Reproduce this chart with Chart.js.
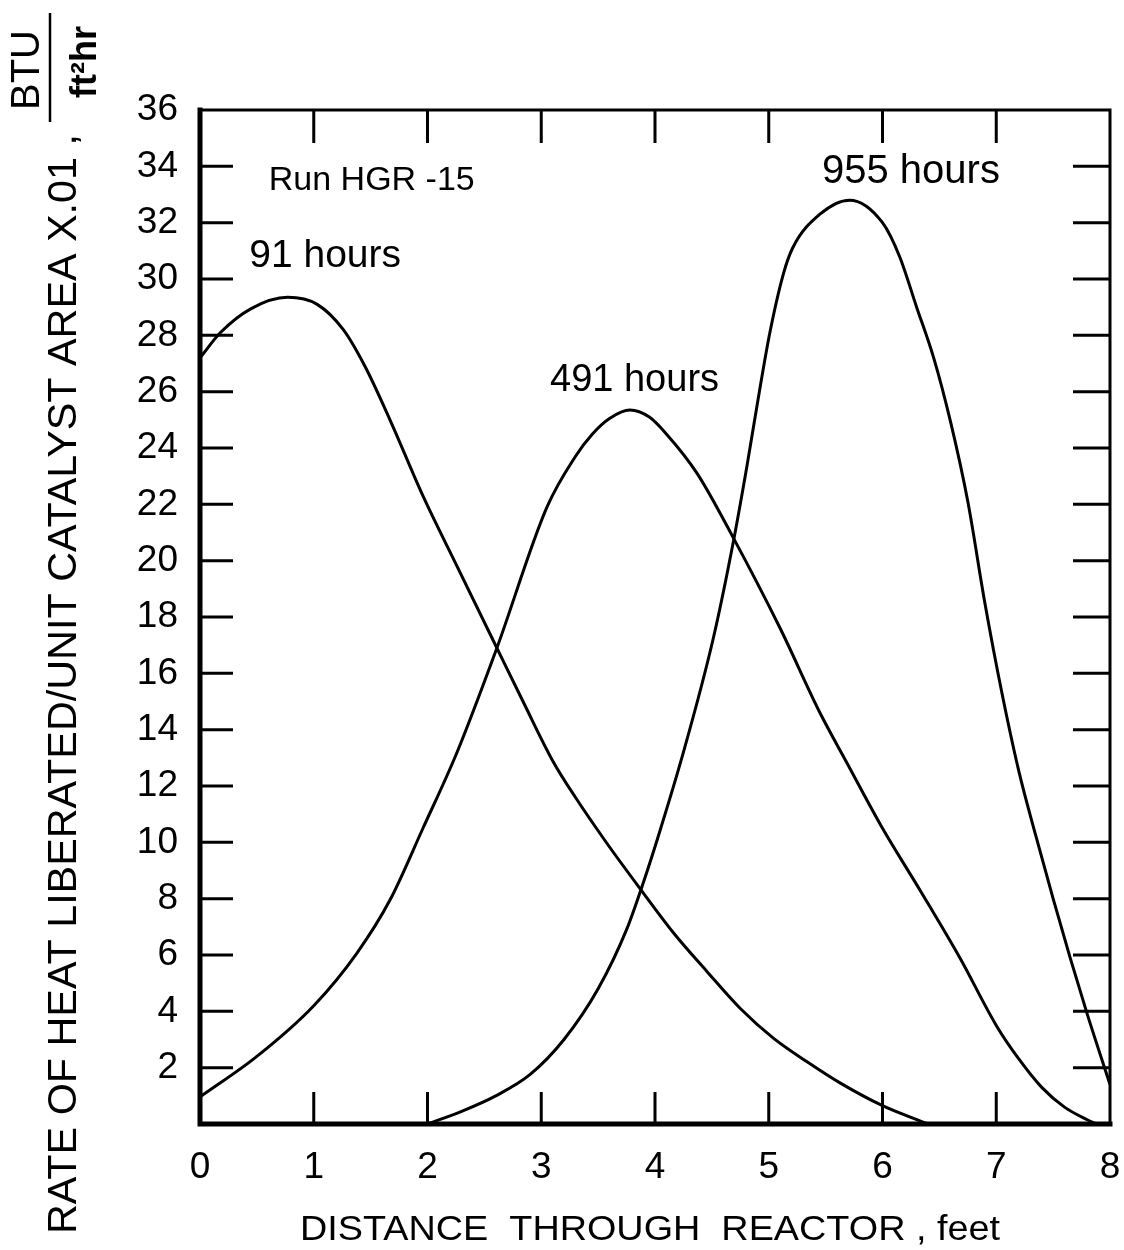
<!DOCTYPE html>
<html>
<head>
<meta charset="utf-8">
<script src="https://cdn.jsdelivr.net/npm/chart.js@4.4.1/dist/chart.umd.min.js"></script>
<style>
  html, body { margin: 0; padding: 0; background: #fff; }
</style>
</head>
<body>
<canvas id="heatChart" width="1124" height="1250"></canvas>
<script>
// distance through reactor (feet) and heat rate
var dist91 = [0, 0.18, 0.45, 0.77, 1.03, 1.26, 1.45, 1.67, 1.96, 2.26, 2.61, 2.84, 3.1, 3.3, 3.58, 3.87, 4.16, 4.46, 4.75, 5.04, 5.34, 5.63, 6.0, 6.4];
var heat91 = [27.2, 28.1, 28.95, 29.35, 29.1, 28.2, 26.9, 25.0, 22.3, 19.8, 16.9, 15.0, 12.9, 11.6, 9.95, 8.35, 6.8, 5.4, 4.1, 3.05, 2.2, 1.45, 0.65, 0];

var dist491 = [0, 0.5, 1.0, 1.38, 1.67, 1.96, 2.26, 2.61, 3.05, 3.3, 3.45, 3.6, 3.78, 3.95, 4.1, 4.37, 4.69, 5.1, 5.45, 5.69, 6.0, 6.33, 6.68, 7.0, 7.2, 7.4, 7.6, 7.8, 7.88];
var heat491 = [0.96, 2.4, 4.2, 6.07, 7.95, 10.5, 13.2, 16.9, 21.9, 23.7, 24.5, 25.05, 25.35, 25.1, 24.5, 23.1, 20.8, 17.6, 14.6, 12.8, 10.5, 8.3, 5.9, 3.5, 2.3, 1.3, 0.6, 0.15, 0];

var dist955 = [2.0, 2.3, 2.6, 2.9, 3.2, 3.5, 3.75, 3.9, 4.02, 4.25, 4.51, 4.69, 4.81, 4.92, 5.01, 5.13, 5.21, 5.45, 5.71, 6.0, 6.15, 6.3, 6.45, 6.6, 6.75, 6.9, 7.05, 7.2, 7.35, 7.5, 7.65, 7.8, 8.0];
var heat955 = [0, 0.45, 1.0, 1.75, 3.0, 4.8, 6.9, 8.6, 10.1, 13.2, 17.2, 20.7, 23.4, 26.06, 28.1, 30.2, 31.1, 32.3, 32.8, 32.0, 30.8, 29.0, 27.2, 24.9, 22.1, 18.5, 15.3, 12.5, 10.2, 8.0, 5.9, 3.9, 1.4];

var seriesNames = ['91 hours', '491 hours', '955 hours'];
var runName = 'Run HGR -15';
var xTitle = 'DISTANCE  THROUGH  REACTOR , feet';
var yTitle = 'RATE OF HEAT LIBERATED/UNIT CATALYST AREA X.01 ,';

var FONT = "'Liberation Sans', Arial, sans-serif";
Chart.defaults.font.family = FONT;
Chart.defaults.color = '#000';

function toPoints(xs, ys) {
	return xs.map(function (v, i) { return { x: v, y: ys[i] }; });
}

function curve(label, xs, ys) {
	return {
		label: label,
		data: toPoints(xs, ys),
		borderColor: '#000',
		borderWidth: 3,
		pointRadius: 0,
		fill: false,
		cubicInterpolationMode: 'monotone'
	};
}

// curve captions, placed in data units
var captions = [
	{ text: runName, x: 1.51, y: 33.5, size: 34 },
	{ text: seriesNames[0], x: 1.1, y: 30.8, size: 39 },
	{ text: seriesNames[1], x: 3.82, y: 26.4, size: 38 },
	{ text: seriesNames[2], x: 6.25, y: 33.8, size: 40 }
];

var framePlugin = {
	id: 'frame',
	afterDraw: function (chart) {
		var ctx = chart.ctx, a = chart.chartArea;
		var xs = chart.scales.x, ys = chart.scales.y;
		ctx.save();
		ctx.strokeStyle = '#000';
		ctx.lineCap = 'square';

		// heavy left/bottom axes, lighter top/right
		ctx.lineWidth = 5;
		ctx.beginPath();
		ctx.moveTo(a.left, a.top);
		ctx.lineTo(a.left, a.bottom);
		ctx.lineTo(a.right, a.bottom);
		ctx.stroke();
		ctx.lineWidth = 3;
		ctx.beginPath();
		ctx.moveTo(a.left, a.top);
		ctx.lineTo(a.right, a.top);
		ctx.lineTo(a.right, a.bottom);
		ctx.stroke();

		// inward tick marks on all four sides
		ctx.lineCap = 'butt';
		ctx.lineWidth = 3;
		ys.ticks.forEach(function (t) {
			if (t.value <= ys.min || t.value >= ys.max) return;
			var py = ys.getPixelForValue(t.value);
			ctx.beginPath();
			ctx.moveTo(a.left, py); ctx.lineTo(a.left + 33, py);
			ctx.moveTo(a.right, py); ctx.lineTo(a.right - 37, py);
			ctx.stroke();
		});
		xs.ticks.forEach(function (t) {
			if (t.value <= xs.min || t.value >= xs.max) return;
			var px = xs.getPixelForValue(t.value);
			ctx.beginPath();
			ctx.moveTo(px, a.bottom); ctx.lineTo(px, a.bottom - 32);
			ctx.moveTo(px, a.top); ctx.lineTo(px, a.top + 33);
			ctx.stroke();
		});

		// captions
		ctx.fillStyle = '#000';
		ctx.textAlign = 'center';
		ctx.textBaseline = 'middle';
		captions.forEach(function (c) {
			ctx.font = c.size + 'px ' + FONT;
			ctx.fillText(c.text, xs.getPixelForValue(c.x), ys.getPixelForValue(c.y));
		});

		// x axis title, spread to its width
		ctx.font = '35px ' + FONT;
		var w = ctx.measureText(xTitle).width;
		ctx.save();
		ctx.translate(300, 1230);
		ctx.scale(700 / w, 1);
		ctx.textAlign = 'left';
		ctx.fillText(xTitle, 0, 0);
		ctx.restore();

		// y axis title, rotated
		ctx.save();
		ctx.translate(65, 1234);
		ctx.rotate(-Math.PI / 2);
		ctx.font = '40px ' + FONT;
		var wy = ctx.measureText(yTitle).width;
		ctx.scale(1100 / wy, 1);
		ctx.textAlign = 'left';
		ctx.fillText(yTitle, 0, 0);
		ctx.restore();

		// unit fraction BTU / ft²hr
		ctx.save();
		ctx.translate(28, 70);
		ctx.rotate(-Math.PI / 2);
		ctx.font = '40px ' + FONT;
		ctx.textAlign = 'center';
		ctx.fillText('BTU', 0, 0);
		ctx.restore();
		ctx.lineWidth = 2.5;
		ctx.beginPath();
		ctx.moveTo(50, 13); ctx.lineTo(50, 122);
		ctx.stroke();
		ctx.save();
		ctx.translate(86, 62);
		ctx.rotate(-Math.PI / 2);
		ctx.font = 'bold 36px ' + FONT;
		ctx.textAlign = 'center';
		ctx.fillText('ft\u00B2hr', 0, 0);
		ctx.restore();

		ctx.restore();
	}
};

var ctx = document.getElementById('heatChart').getContext('2d');

var heatChart = new Chart(ctx, {
	type: 'line',
	data: {
		datasets: [
			curve(seriesNames[0], dist91, heat91),
			curve(seriesNames[1], dist491, heat491),
			curve(seriesNames[2], dist955, heat955)
		]
	},
	options: {
		responsive: false,
		animation: false,
		layout: { padding: { top: 110, right: 14, left: 0, bottom: 0 } },
		plugins: {
			legend: { display: false },
			tooltip: { enabled: false }
		},
		scales: {
			x: {
				type: 'linear',
				min: 0,
				max: 8,
				grid: { display: false, drawTicks: false },
				border: { display: false },
				ticks: { stepSize: 1, padding: 22, font: { size: 37 } },
				afterFit: function (s) {
					s.height = 126;
					s.paddingLeft = 0;
					s.paddingRight = 0;
				}
			},
			y: {
				min: 0,
				max: 36,
				grid: { display: false, drawTicks: false },
				border: { display: false },
				ticks: {
					stepSize: 2,
					padding: 22,
					font: { size: 37 },
					callback: function (v) { return v === 0 ? '' : v; }
				},
				afterFit: function (s) { s.width = 200; }
			}
		}
	},
	plugins: [framePlugin]
});
</script>
</body>
</html>
